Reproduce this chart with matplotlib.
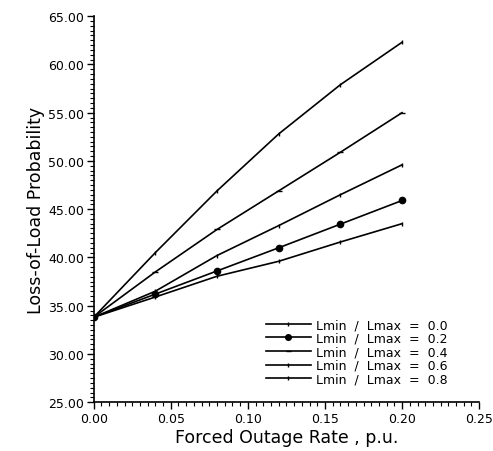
import matplotlib
matplotlib.use("Agg")
import matplotlib.pyplot as plt
from matplotlib.ticker import MultipleLocator, FormatStrFormatter

x = [0.0, 0.04, 0.08, 0.12, 0.16, 0.20]
series_labels = ["Lmin  /  Lmax  =  0.0", "Lmin  /  Lmax  =  0.2", "Lmin  /  Lmax  =  0.4",
                 "Lmin  /  Lmax  =  0.6", "Lmin  /  Lmax  =  0.8"]
y_00 = [33.8, 40.5, 46.9, 52.8, 57.9, 62.3]
y_02 = [33.8, 36.2, 38.6, 41.0, 43.45, 45.9]
y_04 = [33.8, 38.5, 42.9, 46.9, 50.9, 55.0]
y_06 = [33.8, 36.5, 40.2, 43.3, 46.5, 49.6]
y_08 = [33.8, 35.9, 38.05, 39.6, 41.6, 43.5]

fig = plt.figure(figsize=(4.93, 4.52), dpi=100)
ax = fig.add_axes([0.19, 0.108, 0.782, 0.854])

styles = [
    (y_00, dict(marker='|', markersize=3)),
    (y_02, dict(marker='o', markersize=4.5)),
    (y_04, dict(marker='_', markersize=4)),
    (y_06, dict(marker='|', markersize=3)),
    (y_08, dict(marker='|', markersize=3)),
]
for (ys, st), lab in zip(styles, series_labels):
    ax.plot(x, ys, color='black', linewidth=1.2, label=lab, **st)

ax.set_xlim(0, 0.25)
ax.set_ylim(25, 65)
ax.xaxis.set_major_locator(MultipleLocator(0.05))
ax.xaxis.set_minor_locator(MultipleLocator(0.005))
ax.yaxis.set_major_locator(MultipleLocator(5))
ax.yaxis.set_minor_locator(MultipleLocator(0.5))
ax.xaxis.set_major_formatter(FormatStrFormatter('%.2f'))
ax.yaxis.set_major_formatter(FormatStrFormatter('%.2f'))
for s in ['top', 'right']:
    ax.spines[s].set_visible(False)
for s in ['left', 'bottom']:
    ax.spines[s].set_linewidth(1.2)
ax.tick_params(axis='both', which='major', direction='out', length=5, width=1, labelsize=9, pad=2)
ax.tick_params(axis='both', which='minor', direction='out', length=3, width=0.8)

ax.set_xlabel("Forced Outage Rate , p.u.", fontsize=12.5, labelpad=2)
ax.set_ylabel("Loss-of-Load Probability", fontsize=12.5, labelpad=2)

leg = ax.legend(loc='lower right', bbox_to_anchor=(0.93, 0.03), frameon=False,
                fontsize=9, handlelength=3.6, handletextpad=0.4, labelspacing=0.05,
                borderaxespad=0, markerscale=0.9)

fig.savefig("out.png", dpi=100)
